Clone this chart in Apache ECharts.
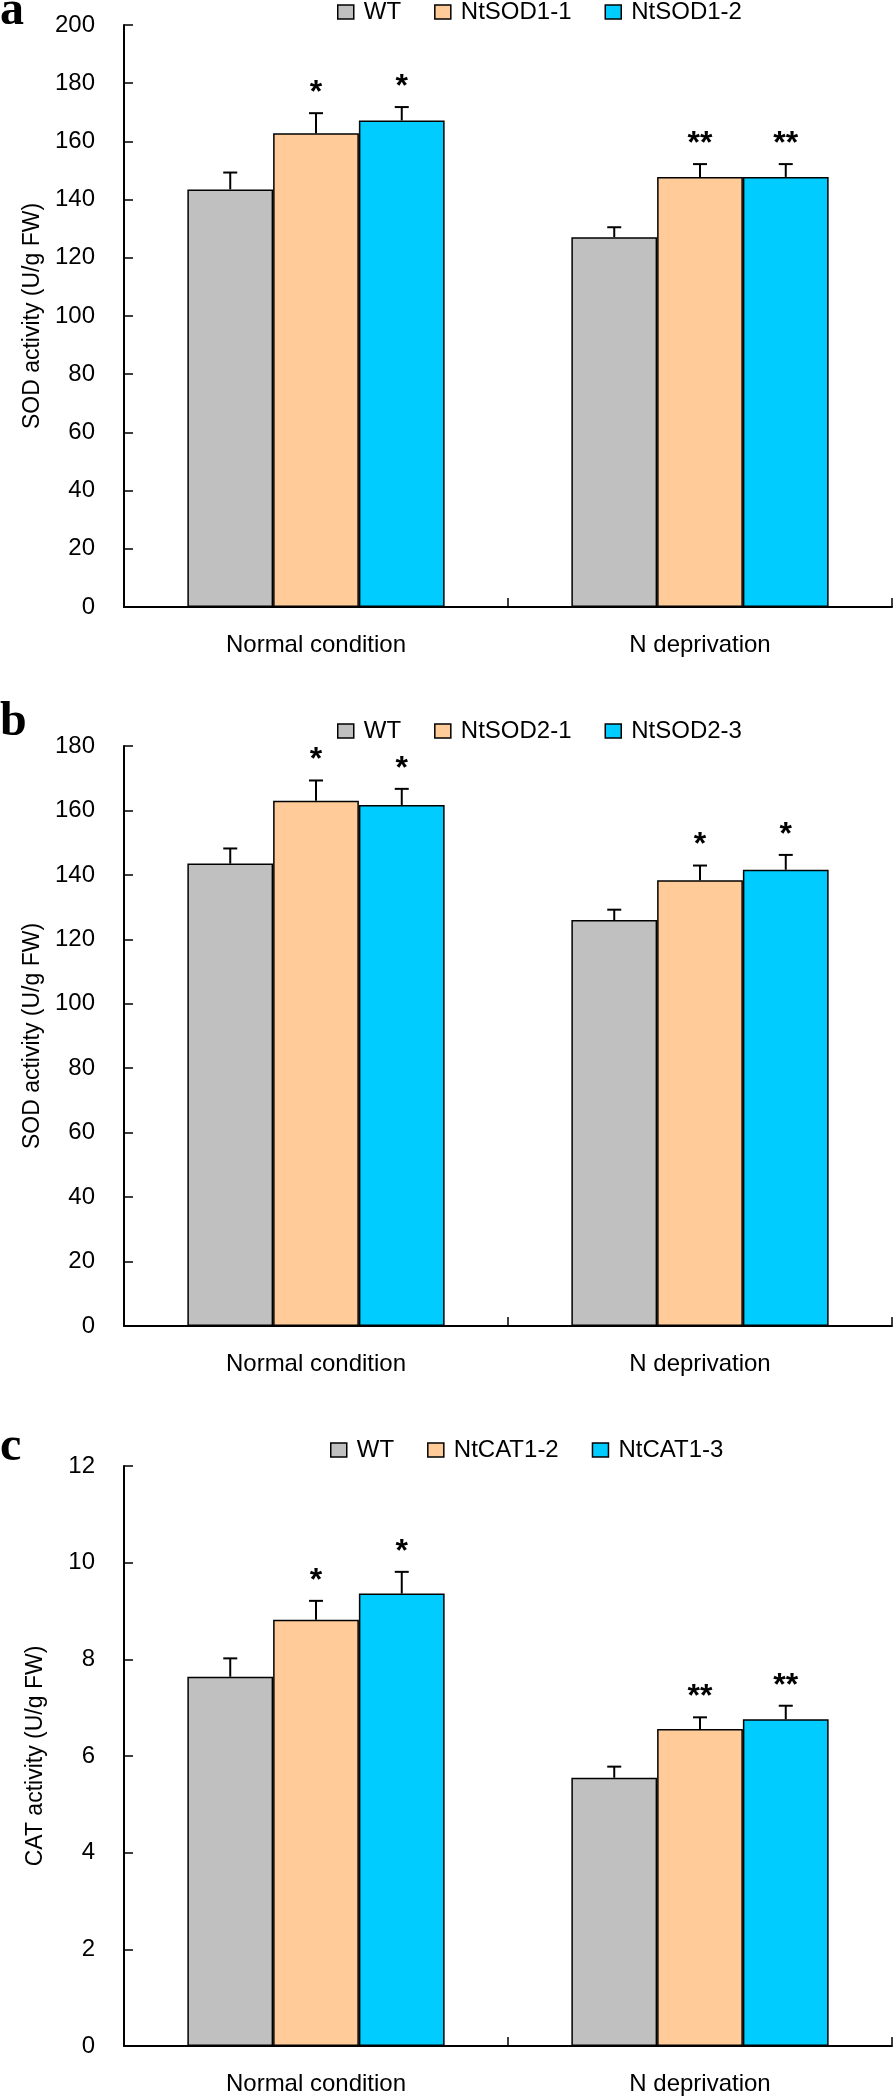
<!DOCTYPE html>
<html>
<head>
<meta charset="utf-8">
<script src="https://cdn.jsdelivr.net/npm/echarts@6/dist/echarts.min.js"></script>
<style>
  html, body { margin: 0; padding: 0; background: #fff; }
  #main { width: 894px; height: 2098px; }
</style>
</head>
<body>
<div id="main"></div>
<script>
var categories = ['Normal condition', 'N deprivation'];

// a: SOD activity, NtSOD1 lines
var namesA = ['WT', 'NtSOD1-1', 'NtSOD1-2'];
var wtA = [143.5, 127.1];
var line1A = [162.8, 147.8];
var line2A = [167.2, 147.8];
var wtErrA = [5.8, 3.4];
var line1ErrA = [6.9, 4.4];
var line2ErrA = [4.6, 4.4];
var starsA = [['', ''], ['*', '**'], ['*', '**']];
var ticksA = [0, 200, 20];

// b: SOD activity, NtSOD2 lines
var namesB = ['WT', 'NtSOD2-1', 'NtSOD2-3'];
var wtB = [143.5, 126.0];
var line1B = [163.0, 138.3];
var line2B = [161.7, 141.6];
var wtErrB = [4.7, 3.2];
var line1ErrB = [6.3, 4.6];
var line2ErrB = [5.0, 4.6];
var starsB = [['', ''], ['*', '*'], ['*', '*']];
var ticksB = [0, 180, 20];

// c: CAT activity, NtCAT1 lines
var namesC = ['WT', 'NtCAT1-2', 'NtCAT1-3'];
var wtC = [7.64, 5.55];
var line1C = [8.82, 6.56];
var line2C = [9.36, 6.76];
var wtErrC = [0.38, 0.23];
var line1ErrC = [0.39, 0.24];
var line2ErrC = [0.45, 0.28];
var starsC = [['', ''], ['*', '**'], ['*', '**']];
var ticksC = [0, 12, 2];

var colors = ['#C0C0C0', '#FFCC99', '#00CCFF'];
var FONT = '"Liberation Sans", Arial, sans-serif';

var chart = echarts.init(document.getElementById('main'));

var panels = [
  {names: namesA, vals: [wtA, line1A, line2A], errs: [wtErrA, line1ErrA, line2ErrA], stars: starsA, ticks: ticksA,
   yName: 'SOD activity (U/g FW)', top: 25, height: 582, legendTop: 0, legendLeft: 337, label: 'a', labelY: 36},
  {names: namesB, vals: [wtB, line1B, line2B], errs: [wtErrB, line1ErrB, line2ErrB], stars: starsB, ticks: ticksB,
   yName: 'SOD activity (U/g FW)', top: 746, height: 580, legendTop: 719, legendLeft: 337, label: 'b', labelY: 747},
  {names: namesC, vals: [wtC, line1C, line2C], errs: [wtErrC, line1ErrC, line2ErrC], stars: starsC, ticks: ticksC,
   yName: 'CAT activity (U/g FW)', top: 1466, height: 580, legendTop: 1438, legendLeft: 330, label: 'c', labelY: 1472}
];

// 误差线 + 星号
function renderErr(params, api) {
  var ci = api.value(0), v = api.value(1), e = api.value(2), n = api.value(3), k = api.value(4);
  var band = api.size([1, 0])[0];
  var bw = band * 0.67 / 3;
  var base = api.coord([ci, v]);
  var top = api.coord([ci, v + e]);
  var x = base[0] + (k - 1) * bw;
  var children = [
    {type: 'line', shape: {x1: x, y1: base[1], x2: x, y2: top[1]}, style: {stroke: '#000', lineWidth: 2}},
    {type: 'line', shape: {x1: x - 7, y1: top[1], x2: x + 7, y2: top[1]}, style: {stroke: '#000', lineWidth: 2}}
  ];
  if (n > 0) {
    children.push({type: 'text', x: x, y: top[1] - 4,
      style: {text: new Array(n + 1).join('*'), fill: '#000', font: 'bold 32px ' + FONT, align: 'center', verticalAlign: 'bottom'}});
  }
  return {type: 'group', children: children};
}

var grid = [], xAxis = [], yAxis = [], series = [], legend = [], graphic = [];

panels.forEach(function (p, gi) {
  grid.push({left: 124, width: 768, top: p.top, height: p.height, outerBoundsMode: 'none', containLabel: false});
  xAxis.push({
    type: 'category', gridIndex: gi, data: categories,
    axisLine: {lineStyle: {color: '#000', width: 2}},
    axisTick: {show: true, inside: true, length: 9, lineStyle: {color: '#000', width: 1.5}},
    axisLabel: {color: '#000', fontSize: 24, fontFamily: FONT, margin: 26, interval: 0},
    splitLine: {show: false}
  });
  yAxis.push({
    type: 'value', gridIndex: gi, min: p.ticks[0], max: p.ticks[1], interval: p.ticks[2],
    name: p.yName, nameLocation: 'middle', nameGap: 77, nameRotate: 90,
    nameTextStyle: {color: '#000', fontSize: 23, fontFamily: FONT},
    axisLine: {show: true, lineStyle: {color: '#000', width: 2}},
    axisTick: {show: true, inside: true, length: 9, lineStyle: {color: '#000', width: 1.5}},
    axisLabel: {color: '#000', fontSize: 24, fontFamily: FONT, margin: 29, showMinLabel: true, showMaxLabel: true},
    splitLine: {show: false}
  });
  var errData = [];
  p.names.forEach(function (nm, k) {
    series.push({
      name: nm, type: 'bar', xAxisIndex: gi, yAxisIndex: gi,
      data: p.vals[k], barGap: '0%', barCategoryGap: '33%',
      itemStyle: {color: colors[k], borderColor: '#000', borderWidth: 1.5},
      emphasis: {disabled: true}
    });
    p.vals[k].forEach(function (v, ci) {
      errData.push([ci, v, p.errs[k][ci], p.stars[k][ci].length, k]);
    });
  });
  series.push({
    name: 'err' + gi, type: 'custom', xAxisIndex: gi, yAxisIndex: gi,
    data: errData, renderItem: renderErr, z: 10, silent: true
  });
  legend.push({
    data: p.names, left: p.legendLeft, top: p.legendTop, padding: 0,
    icon: 'rect', itemWidth: 16, itemHeight: 14, itemGap: 33, selectedMode: false,
    itemStyle: {borderColor: '#000', borderWidth: 1.5},
    textStyle: {color: '#000', fontSize: 24, fontFamily: FONT, padding: [0, 0, 0, 5]}
  });
  graphic.push({type: 'text', x: 0, y: p.labelY,
    style: {text: p.label, fill: '#000', font: 'bold 48px "Liberation Serif", "Times New Roman", serif', verticalAlign: 'bottom'}});
});

chart.setOption({
  animation: false,
  backgroundColor: '#fff',
  grid: grid,
  xAxis: xAxis,
  yAxis: yAxis,
  legend: legend,
  graphic: graphic,
  series: series
});
</script>
</body>
</html>
